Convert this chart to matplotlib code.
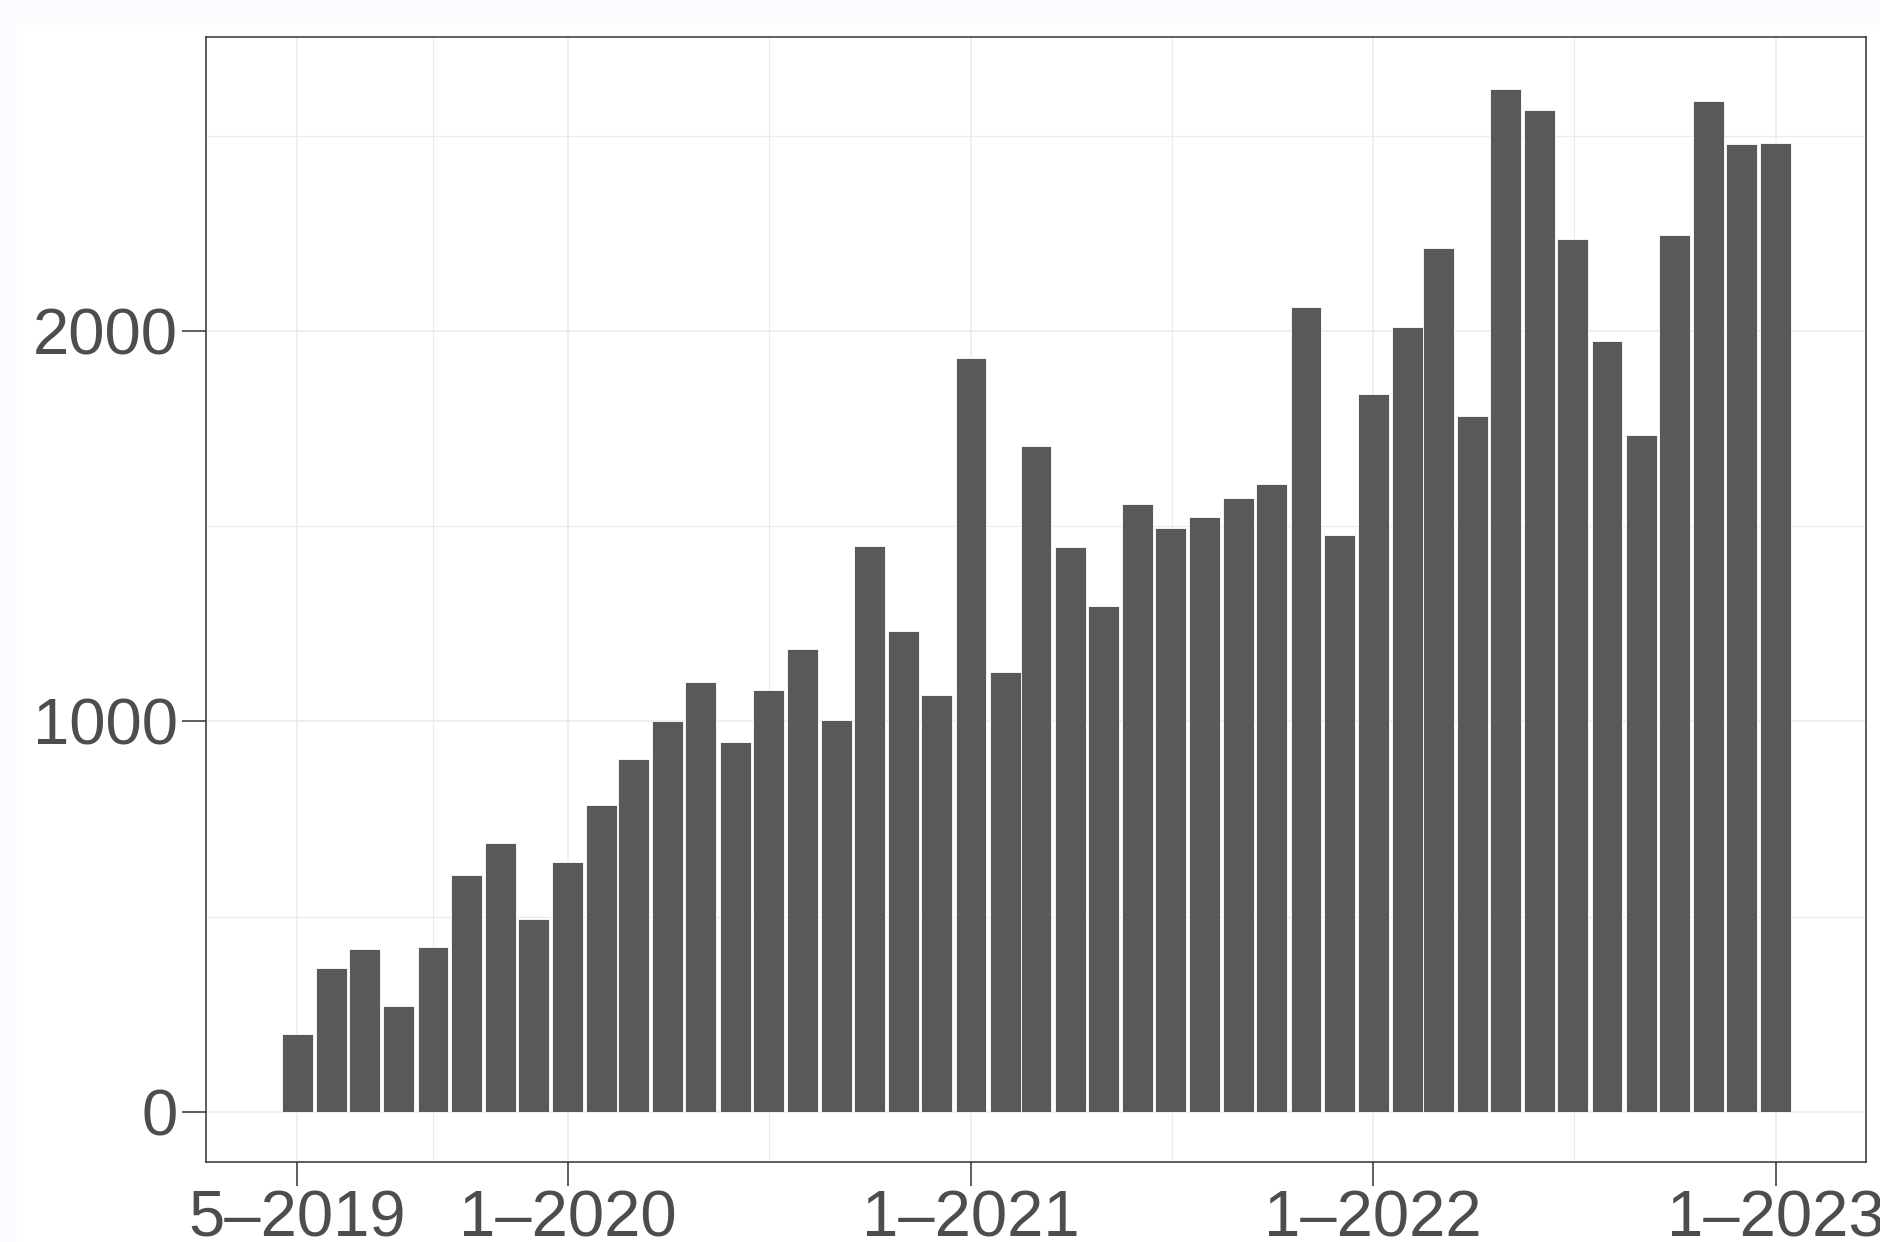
import datetime as dt
import matplotlib
matplotlib.use("Agg")
import matplotlib.pyplot as plt
import matplotlib.dates as mdates
from matplotlib.patches import Rectangle

# monthly counts, May 2019 .. Jan 2023
months = [dt.date(2019 + (4 + i) // 12, (4 + i) % 12 + 1, 1) for i in range(45)]
counts = [200, 369, 418, 270, 422, 606, 689, 495, 640, 785,
          905, 1000, 1102, 948, 1080, 1185, 1003, 1449, 1231, 1068,
          1932, 1126, 1705, 1446, 1295, 1557, 1495, 1523, 1572, 1609,
          2062, 1477, 1840, 2012, 2212, 1782, 2620, 2566, 2237, 1975,
          1735, 2246, 2591, 2480, 2483]

major_dates = [dt.date(2019, 5, 1), dt.date(2020, 1, 1), dt.date(2021, 1, 1),
               dt.date(2022, 1, 1), dt.date(2023, 1, 1)]
major_labels = ["5\u20132019", "1\u20132020", "1\u20132021", "1\u20132022", "1\u20132023"]
y_major = [0, 1000, 2000]
y_minor = [500, 1500, 2500]

txt = "#4D4D4D"
plt.rcParams['font.family'] = ['Liberation Sans', 'DejaVu Sans']

fig = plt.figure(figsize=(18.81, 12.42), dpi=100, facecolor="#FAFCFF")
fig.patches.append(Rectangle((17 / 1881, 0), 1, 1 - 25 / 1242, transform=fig.transFigure,
                             facecolor="white", edgecolor="none", zorder=-10))
ax = fig.add_axes([206 / 1881, 1 - 1162 / 1242, 1660 / 1881, 1125 / 1242])
ax.set_zorder(5)

ax.bar(months, counts, width=28, color="#595959", edgecolor="white", linewidth=0.6, zorder=2)

mnum = [mdates.date2num(d) for d in major_dates]
minors = [(a + b) / 2 for a, b in zip(mnum[:-1], mnum[1:])]
ax.set_xticks(mnum)
ax.set_xticklabels(major_labels)
ax.set_xticks(minors, minor=True)
ax.set_yticks(y_major)
ax.set_yticklabels([str(v) for v in y_major])
ax.set_yticks(y_minor, minor=True)

x0 = mdates.date2num(dt.date(2019, 5, 1))
ax.set_xlim(x0 - 83, x0 + 1423)
ax.set_ylim(-129, 2754)

ax.set_axisbelow(True)
ax.grid(which="major", color="#EBEBEB", linewidth=1.1)
ax.grid(which="minor", color="#EBEBEB", linewidth=0.8)
ax.tick_params(which="major", length=17, width=1.1, color="#333333",
               labelsize=47, labelcolor=txt, pad=3)
ax.tick_params(which="minor", length=0)
for s in ax.spines.values():
    s.set_color("#333333")
    s.set_linewidth(1.1)

fig.savefig("out.png", dpi=100, facecolor=fig.get_facecolor())
